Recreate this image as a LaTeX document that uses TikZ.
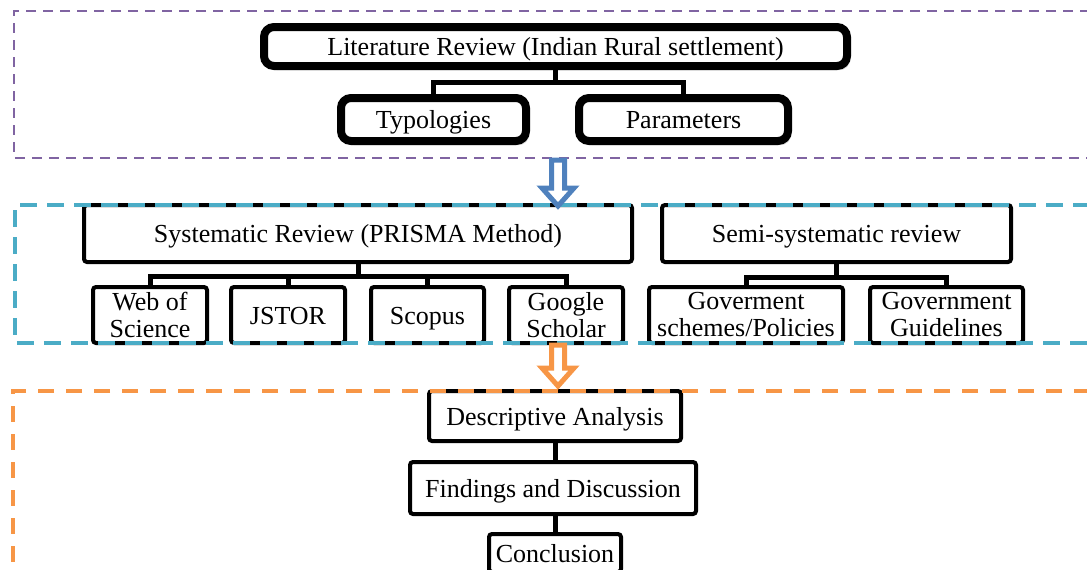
\documentclass[tikz,border=0pt]{standalone}
\usepackage{fontspec}
\setmainfont{Liberation Serif}
\usetikzlibrary{positioning}
\usetikzlibrary{shadows}

\definecolor{grppurple}{HTML}{8064A2}
\definecolor{grpblue}{HTML}{4BACC6}
\definecolor{grporange}{HTML}{F79646}
\definecolor{arrblue}{HTML}{4F81BD}

\tikzset{
 topbox/.style={draw, line width=4pt, rounded corners=5pt, fill=white, inner sep=0pt,
   text height=12pt, text depth=3pt,
   drop shadow={opacity=0.3, shadow xshift=1.5pt, shadow yshift=-2pt}},
 midbox/.style={draw, line width=2pt, rounded corners=1.5pt, fill=white, inner sep=0pt, align=center},
 oneline/.style={text height=12pt, text depth=3pt},
 link/.style={line width=2.5pt},
 grpline/.style={line width=2pt}
}

\begin{document}
\begin{tikzpicture}[x=0.5pt,y=-0.5pt,font=\fontsize{13}{13.5}\selectfont]
 \useasboundingbox (0,0) rectangle (1087,569);
 % first group
 \node[topbox,minimum width=291.5pt,minimum height=19.5pt] (lit) at (555.5,46.5) {Literature Review (Indian Rural settlement)};
 \node[topbox,minimum width=92.5pt,minimum height=21.5pt] (typ) at (433.5,119.5) {Typologies};
 \node[topbox,minimum width=104.5pt,minimum height=21.5pt] (par) at (683.5,119.5) {Parameters};
 \draw[link] (lit.south) -- ++(0,12) -| (typ.north);
 \draw[link] (lit.south) ++(0,12) -| (par.north);

 % second group
 \node[midbox,oneline,minimum width=274pt,minimum height=28.5pt] (sys) at (358,233.5) {Systematic Review (PRISMA Method)};
 \node[midbox,oneline,minimum width=174.5pt,minimum height=28.5pt] (semi) at (836.5,233.5) {Semi-systematic review};
 \node[midbox,minimum width=57pt,minimum height=28pt] (wos) at (150,315) {Web of\\Science};
 \node[midbox,oneline,minimum width=57pt,minimum height=28pt] (jstor) at (288,315) {JSTOR};
 \node[midbox,oneline,minimum width=56.5pt,minimum height=28pt] (scopus) at (427.5,315) {Scopus};
 \node[midbox,minimum width=57pt,minimum height=28pt] (gsch) at (566,315) {Google\\Scholar};
 \node[midbox,minimum width=97pt,minimum height=28pt] (gscheme) at (746,315) {Goverment\\schemes/Policies};
 \node[midbox,minimum width=76.5pt,minimum height=28pt] (gguide) at (946.5,315) {Government\\Guidelines};
 \draw[link] (sys.south) -- ++(0,12) -| (wos.north);
 \draw[link] (sys.south) ++(0,12) -| (jstor.north);
 \draw[link] (sys.south) ++(0,12) -| (scopus.north);
 \draw[link] (sys.south) ++(0,12) -| (gsch.north);
 \draw[link] (semi.south) -- ++(0,13) -| (gscheme.north);
 \draw[link] (semi.south) ++(0,13) -| (gguide.north);

 % third group
 \node[midbox,oneline,minimum width=126pt,minimum height=25pt] (desc) at (555,416) {Descriptive Analysis};
 \node[midbox,oneline,minimum width=143pt,minimum height=26pt] (find) at (553,488) {Findings and Discussion};
 \node[midbox,oneline,minimum width=66pt,minimum height=19pt] (concl) at (555,553) {Conclusion};
 \draw[link] (desc.south) -- (desc.south |- find.north);
 \draw[link] (find.south -| concl.north) -- (concl.north);

 % group frames
 \draw[grppurple,line width=1.3pt,dash pattern=on 5pt off 3.5pt] (1090,11) -- (14,11) -- (14,158) -- (1090,158);
 \draw[grpblue,grpline,dash pattern=on 8.5pt off 5pt] (1090,205) -- (15,205) -- (15,343) -- (1090,343);
 \draw[grporange,grpline,dash pattern=on 8pt off 6pt] (1090,391) -- (13,391) -- (13,580);

 % block arrows
 \draw[arrblue,line width=2.5pt,fill=white] (551.5,160) -- (564.5,160) -- (564.5,188) -- (574,188) -- (558,206) -- (542,188) -- (551.5,188) -- cycle;
 \draw[grporange,line width=2.5pt,fill=white] (551.5,345) -- (564.5,345) -- (564.5,368) -- (574,368) -- (558,386) -- (542,368) -- (551.5,368) -- cycle;
\end{tikzpicture}
\end{document}
